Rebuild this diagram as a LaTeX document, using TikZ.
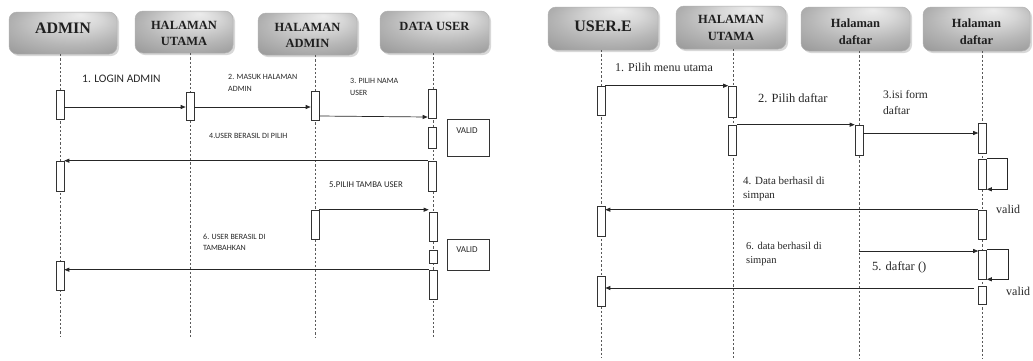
\documentclass[tikz,border=0pt]{standalone}
\usepackage{fontspec}
\setmainfont{Liberation Serif}
\newfontfamily\lblfont{Carlito}
\usetikzlibrary{arrows.meta,shadows}
\pgfdeclareradialshading{hdrshade}{\pgfpoint{8bp}{22bp}}{%
  color(0bp)=(gray!15); color(12bp)=(gray!32); color(25bp)=(gray!57); color(38bp)=(gray!78); color(50bp)=(gray!90)}
\begin{document}
\begin{tikzpicture}[x=1pt,y=-1pt,
  head/.style={draw=gray!60, line width=0.5pt, rounded corners=8pt, shade, shading=hdrshade,
    drop shadow={shadow xshift=2pt, shadow yshift=-2pt, fill=gray!60}, inner sep=0pt},
  htext/.style={font=\bfseries\fontsize{12.5}{16.5}\selectfont, align=center, inner sep=0pt, text=black!88},
  hbig/.style={font=\bfseries\fontsize{16}{18}\selectfont, inner sep=0pt, text=black!88},
  life/.style={draw=black!65, line width=0.7pt, dash pattern=on 2.2pt off 2pt},
  act/.style={draw=black!80, fill=white, line width=0.6pt, minimum width=8pt, inner sep=0pt},
  msg/.style={draw=black!85, line width=0.7pt, -{Triangle[length=5pt,width=4pt]}},
  vbox/.style={draw=black!80, line width=0.6pt, inner sep=0pt},
  lbl/.style={font=\lblfont\fontsize{8}{11.5}\selectfont, inner sep=0pt, anchor=west, align=left, text=black!85},
  rl/.style={font=\fontsize{12}{14}\selectfont, inner sep=0pt, anchor=west, align=left, text=black!85},
  rls/.style={font=\fontsize{10.5}{14}\selectfont, inner sep=0pt, anchor=west, align=left, text=black!85}
]
\useasboundingbox (0,0) rectangle (1033,360);

% ================= LEFT DIAGRAM =================
\node[head, minimum width=108pt, minimum height=42pt] (h1) at (63,33) {};
\node[head, minimum width=98pt, minimum height=42pt] (h2) at (184,32) {};
\node[head, minimum width=99pt, minimum height=42pt] (h3) at (307.5,34) {};
\node[head, minimum width=109pt, minimum height=42pt] (h4) at (434.5,32) {};
\node[hbig] (h1t) at (63,28) {ADMIN};
\node[htext] (h2t) at (184,33.5) {HALAMAN\\UTAMA};
\node[htext] (h3t) at (307.5,35.5) {HALAMAN\\ADMIN};
\node[htext] (h4t) at (434.5,26) {DATA USER};

\coordinate (e1) at (60,337);
\coordinate (e2) at (190,337);
\coordinate (e3) at (315,337);
\coordinate (e4) at (433,337);
\draw[life] (e1 |- h1.south) -- (e1);
\draw[life] (e2 |- h2.south) -- (e2);
\draw[life] (e3 |- h3.south) -- (e3);
\draw[life] (e4 |- h4.south) -- (e4);

\node[act, minimum height=29pt] (a1) at (60,104.5) {};
\node[act, minimum height=28pt] (b1) at (190,106) {};
\node[act, minimum height=29pt] (c1) at (315,105.5) {};
\node[act, minimum height=29pt] (d1) at (432,103.5) {};
\node[act, minimum height=21pt] (d2) at (432,137.5) {};
\node[act, minimum height=30pt] (a2) at (60,176) {};
\node[act, minimum height=30pt] (d3) at (432,176) {};
\node[act, minimum height=29pt] (c2) at (315,224.5) {};
\node[act, minimum height=29pt] (d4) at (433,226.5) {};
\node[act, minimum height=13pt] (d5) at (433,256.5) {};
\node[act, minimum height=29pt] (a3) at (60,275.5) {};
\node[act, minimum height=29pt] (d6) at (433,284.5) {};

\node[vbox, minimum width=42pt, minimum height=37pt] (v1) at (468,137.5) {};
\node[vbox, minimum width=42pt, minimum height=31pt] (v2) at (468,254.5) {};
\node[lbl, anchor=center, font=\lblfont\fontsize{9}{11}\selectfont] (v1t) at (467,131) {VALID};
\node[lbl, anchor=center, font=\lblfont\fontsize{9}{11}\selectfont] (v2t) at (467,249.5) {VALID};

\draw[msg] (a1.east |- 0,107) -- (b1.west |- 0,107);
\draw[msg] (b1.east |- 0,107) -- (c1.west |- 0,107);
\draw[msg] (c1.east |- 0,116) -- (d1.west |- 0,117);
\draw[msg] (d3.north west) -- (a2.north east);
\draw[msg] (c2.north east) -- (d4.west |- c2.north east);
\draw[msg] (d6.north west) -- (a3.east |- d6.north west);

\node[lbl, font=\lblfont\fontsize{11.5}{13}\selectfont] (l1) at (82,79) {1. LOGIN ADMIN};
\node[lbl] (l2) at (228,83) {2. MASUK HALAMAN\\ADMIN};
\node[lbl] (l3) at (350,87) {3. PILIH NAMA\\USER};
\node[lbl] (l4) at (209,136) {4.USER BERASIL DI PILIH};
\node[lbl, font=\lblfont\fontsize{8.8}{11}\selectfont] (l5) at (329,185) {5.PILIH TAMBA USER};
\node[lbl] (l6) at (203,242.5) {6. USER BERASIL DI\\TAMBAHKAN};

% ================= RIGHT DIAGRAM =================
\node[head, minimum width=110pt, minimum height=43pt] (g1) at (603,28.5) {};
\node[head, minimum width=110pt, minimum height=43pt] (g2) at (731,27.5) {};
\node[head, minimum width=109pt, minimum height=44pt] (g3) at (855.5,29) {};
\node[head, minimum width=107pt, minimum height=44pt] (g4) at (976.5,29) {};
\node[hbig] (g1t) at (603,26) {USER.E};
\node[htext] (g2t) at (731,28) {HALAMAN\\UTAMA};
\node[htext] (g3t) at (855.5,31.5) {Halaman\\daftar};
\node[htext] (g4t) at (976.5,31.5) {Halaman\\daftar};

\coordinate (f1) at (601,358);
\coordinate (f2) at (733,358);
\coordinate (f3) at (859,358);
\coordinate (f4) at (982,358);
\draw[life] (f1 |- g1.south) -- (f1);
\draw[life] (f2 |- g2.south) -- (f2);
\draw[life] (f3 |- g3.south) -- (f3);
\draw[life] (f4 |- g4.south) -- (f4);

\node[act, minimum height=29pt] (p1) at (601,100.5) {};
\node[act, minimum height=31pt] (q1) at (732.5,101.5) {};
\node[act, minimum height=30pt] (q2) at (732.5,140) {};
\node[act, minimum height=30pt] (r1) at (859,140) {};
\node[act, minimum height=30pt] (s1) at (982.5,138) {};
\node[act, minimum height=30pt] (s2) at (982.5,174) {};
\node[act, minimum height=30pt] (p2) at (601,221) {};
\node[act, minimum height=29pt] (s3) at (982.5,224.5) {};
\node[act, minimum height=29pt] (s4) at (982.5,264.5) {};
\node[act, minimum height=30pt] (p3) at (601,291) {};
\node[act, minimum height=18pt] (s5) at (982.5,295) {};

\draw[msg] (p1.north east) -- (q1.north west);
\draw[msg] (q2.north east) -- (r1.north west);
\draw[msg] (r1.east |- 0,133) -- (s1.west |- 0,133);
\draw[msg] (s2.north east) -- (s2.north east -| 1007,0) |- (s2.south east);
\draw[msg] (s3.north west) -- (p2.east |- s3.north west);
\coordinate (r5s) at (859,251);
\draw[msg] (r5s) -- (s4.west |- r5s);
\draw[msg] (s4.north east) -- (s4.north east -| 1008,0) |- (s4.south east);
\coordinate (r6s) at (974,288);
\draw[msg] (r6s) -- (p3.east |- r6s);

\node[rl] (k1) at (615,67) {1. Pilih menu utama};
\node[rl, font=\fontsize{12.5}{14}\selectfont] (k2) at (758,98) {2. Pilih daftar};
\node[rl, font=\fontsize{11.5}{16}\selectfont] (k3) at (883,102.5) {3.isi form\\daftar};
\node[rls, font=\fontsize{11}{14}\selectfont] (k4) at (743,189) {4. Data berhasil di\\simpan};
\node[rls] (k6) at (746,254) {6. data berhasil di\\simpan};
\node[rl, font=\fontsize{12.5}{14}\selectfont] (k5) at (872,267) {5. daftar ()};
\node[rl] (kv1) at (996,209) {valid};
\node[rl] (kv2) at (1006,291) {valid};
\end{tikzpicture}
\end{document}
